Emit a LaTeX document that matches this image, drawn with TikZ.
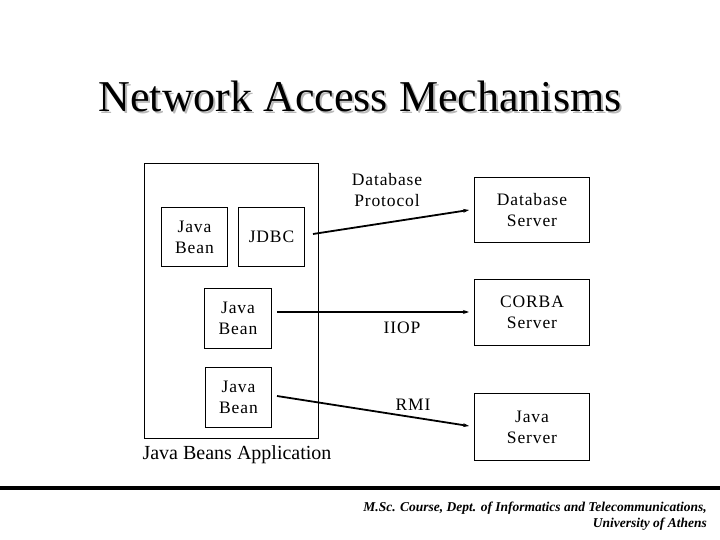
\documentclass[tikz,border=0pt]{standalone}
\usepackage{fontspec}
\setmainfont{Liberation Serif}
\usetikzlibrary{arrows.meta}
\begin{document}
\begin{tikzpicture}[x=1pt,y=-1pt,
  box/.style={draw,line width=1pt,inner sep=0pt,anchor=north west},
  lbl/.style={font=\fontsize{17.5}{21}\selectfont\addfontfeatures{LetterSpace=5},align=center,inner sep=0pt},
  conn/.style={line width=1.8pt,-{Stealth[length=6pt,width=4pt]}},
]
\useasboundingbox (0,0) rectangle (720,540);
% title with shadow
\node (title) [font=\fontsize{44}{48}\selectfont] at (360,97) {\makebox[0pt][l]{\hspace{2pt}\raisebox{-2pt}{\color{gray!55}Network Access Mechanisms}}Network Access Mechanisms};
% application frame
\node (app) [box,minimum width=174pt,minimum height=275pt] at (144,163) {};
\node (appl) [font=\fontsize{20}{22}\selectfont,inner sep=0pt] at (237,455) {Java Beans Application};
% inner boxes
\node (jb1) [box,minimum width=66pt,minimum height=59pt] at (161,207) {};
\node [lbl] at (jb1.center) {Java\\Bean};
\node (jdbc) [box,minimum width=66pt,minimum height=59pt] at (238,207) {};
\node [lbl] at (jdbc.center) {JDBC};
\node (jb2) [box,minimum width=67pt,minimum height=60pt] at (204,288) {};
\node [lbl] at (jb2.center) {Java\\Bean};
\node (jb3) [box,minimum width=66pt,minimum height=60pt] at (205,367) {};
\node [lbl] at (jb3.center) {Java\\Bean};
% servers
\node (dbs) [box,minimum width=115pt,minimum height=65pt] at (474,177) {};
\node [lbl] at (dbs.center) {Database\\Server};
\node (cos) [box,minimum width=115pt,minimum height=66pt] at (474,279) {};
\node [lbl] at (cos.center) {CORBA\\Server};
\node (jsv) [box,minimum width=115pt,minimum height=67pt] at (474,393) {};
\node [lbl] at (jsv.center) {Java\\Server};
% connector ends
\coordinate (a1) at (313,234);
\coordinate (b1) at (469,210);
\coordinate (a2) at (277,312);
\coordinate (b2) at (469,312);
\coordinate (a3) at (277,396);
\coordinate (b3) at (469,426);
\draw[conn] (a1) -- (b1);
\draw[conn] (a2) -- (b2);
\draw[conn] (a3) -- (b3);
% labels
\node (dbp) [lbl] at (387,190) {Database\\Protocol};
\node (iiop) [lbl] at (402,328) {IIOP};
\node (rmi) [lbl] at (413,405) {RMI};
% footer
\coordinate (fl) at (0,487.5);
\coordinate (fr) at (720,487.5);
\draw[line width=4pt] (fl) -- (fr);
\node (foot) [anchor=north east,align=right,inner sep=0pt,font=\fontsize{13.5}{16}\selectfont\bfseries\itshape] at (707,502) {M.Sc. Course, Dept. of Informatics and Telecommunications,\\University of Athens};
\end{tikzpicture}
\end{document}
